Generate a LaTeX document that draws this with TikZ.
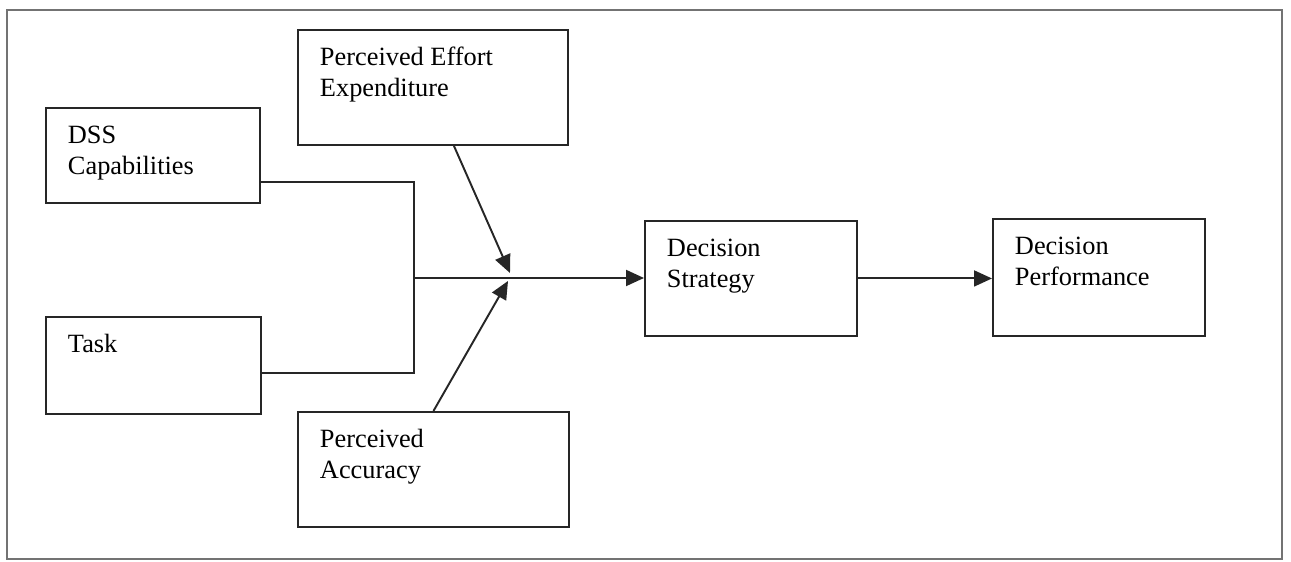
\documentclass[tikz,border=0pt]{standalone}
\usepackage{fontspec}
\setmainfont{Liberation Serif}
\usetikzlibrary{arrows.meta}

\begin{document}
\begin{tikzpicture}[
    font=\fontsize{15pt}{17.6pt}\selectfont,
    box/.style={draw=black!85, line width=1.1pt, inner sep=0pt, anchor=north west},
    link/.style={black!85, line width=1.1pt},
    arrow/.style={link, -{Triangle[length=0.36cm,width=0.32cm]}}
  ]
  % text sits in the top left corner of each box
  \def\boxtext#1#2#3{\parbox[c][#2][t]{#1}{\raggedright\leftskip=0.44cm\rule{0pt}{0.72cm}#3}}
  \useasboundingbox (0,0) rectangle (25.82,-11.24);
  \draw[black!55, line width=1.2pt] (0.14,-0.2) rectangle (25.64,-11.18);

  \node[box] (dss) at (0.9,-2.14) {\boxtext{4.28cm}{1.9cm}{DSS\\Capabilities}};
  \node[box] (effort) at (5.94,-0.58) {\boxtext{5.4cm}{2.3cm}{Perceived Effort\\Expenditure}};
  \node[box] (task) at (0.9,-6.32) {\boxtext{4.3cm}{1.94cm}{Task}};
  \node[box] (accuracy) at (5.94,-8.22) {\boxtext{5.42cm}{2.3cm}{Perceived\\Accuracy}};
  \node[box] (strategy) at (12.88,-4.4) {\boxtext{4.24cm}{2.3cm}{Decision\\Strategy}};
  \node[box] (performance) at (19.84,-4.36) {\boxtext{4.24cm}{2.34cm}{Decision\\Performance}};

  \coordinate (fork) at (8.28,-5.56);
  \coordinate (effort in) at (10.2,-5.46);
  \coordinate (accuracy in) at (10.16,-5.62);

  \draw[link] (dss.east |- 0,-3.64) -| (fork) |- (task.east |- 0,-7.46);
  \draw[arrow] (fork) -- (fork -| strategy.west);
  \draw[arrow] ([xshift=0.42cm]effort.south) -- (effort in);
  \draw[arrow] (accuracy.north) -- (accuracy in);
  \draw[arrow] (strategy.east) -- (strategy.east -| performance.west);
\end{tikzpicture}
\end{document}
